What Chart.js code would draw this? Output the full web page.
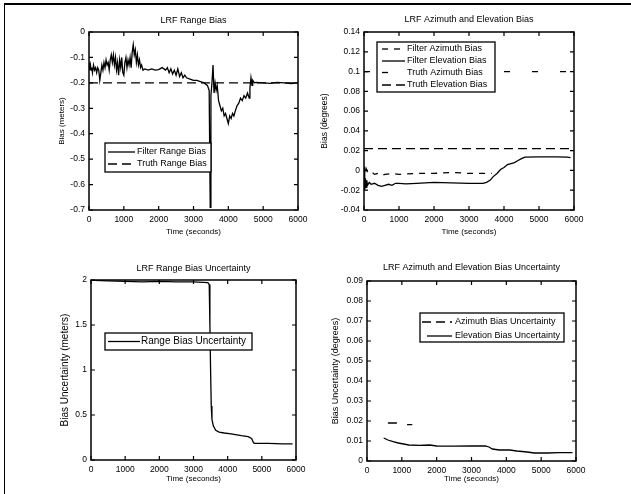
<!DOCTYPE html>
<html>
<head>
<meta charset="utf-8">
<title>LRF Bias Estimation</title>
<script src="https://cdn.jsdelivr.net/npm/chart.js@4.4.1/dist/chart.umd.min.js"></script>
<style>
  html, body { margin: 0; padding: 0; background: #fff; }
  #page { position: relative; width: 631px; height: 494px; overflow: hidden; background: #fff; }
  #page canvas { position: absolute; left: 0; top: 0; }
  #frame { position: absolute; left: 4px; top: 3px; width: 700px; height: 600px;
           border-top: 2px solid #000; border-left: 1.5px solid #000; }
</style>
</head>
<body>
<div id="page">
  <div id="frame"></div>
  <canvas id="c1" width="631" height="494"></canvas>
  <canvas id="c2" width="631" height="494"></canvas>
  <canvas id="c3" width="631" height="494"></canvas>
  <canvas id="c4" width="631" height="494"></canvas>
</div>
<script>
// ---- tick labels ----
const TIME_TICKS = [0, 1000, 2000, 3000, 4000, 5000, 6000];
const RANGE_BIAS_TICKS = [-0.7, -0.6, -0.5, -0.4, -0.3, -0.2, -0.1, 0];
const ANGLE_BIAS_TICKS = [-0.04, -0.02, 0, 0.02, 0.04, 0.06, 0.08, 0.1, 0.12, 0.14];
const RANGE_UNC_TICKS = [0, 0.5, 1, 1.5, 2];
const ANGLE_UNC_TICKS = [0, 0.01, 0.02, 0.03, 0.04, 0.05, 0.06, 0.07, 0.08, 0.09];

// ---- series: [time (s), value] ----
const filterRangeBias = [
  [0,-0.12],[20,-0.15],[40,-0.13],[60,-0.15],[80,-0.14],[100,-0.16],[130,-0.13],[160,-0.15],
  [190,-0.14],[220,-0.16],[250,-0.14],[280,-0.15],[310,-0.19],[340,-0.16],[370,-0.13],[400,-0.15],
  [430,-0.12],[460,-0.14],[490,-0.11],[520,-0.13],[550,-0.12],[580,-0.15],[610,-0.11],[640,-0.09],
  [670,-0.12],[700,-0.09],[730,-0.13],[760,-0.10],[790,-0.15],[820,-0.12],[850,-0.17],[880,-0.11],
  [910,-0.14],[940,-0.10],[970,-0.16],[1000,-0.17],[1030,-0.12],[1060,-0.10],[1090,-0.14],[1120,-0.11],
  [1150,-0.13],[1180,-0.10],[1210,-0.14],[1240,-0.08],[1270,-0.05],[1300,-0.09],[1330,-0.07],[1360,-0.12],
  [1390,-0.09],[1420,-0.13],[1450,-0.11],[1480,-0.14],[1510,-0.13],[1550,-0.15],[1600,-0.145],[1700,-0.15],
  [1800,-0.145],[1900,-0.15],[2000,-0.148],[2100,-0.14],[2150,-0.145],[2200,-0.15],[2250,-0.14],[2300,-0.16],
  [2350,-0.145],[2400,-0.165],[2450,-0.15],[2500,-0.17],[2550,-0.145],[2600,-0.175],[2650,-0.16],[2700,-0.18],
  [2750,-0.17],[2800,-0.18],[2900,-0.185],[3000,-0.19],[3100,-0.19],[3200,-0.195],[3300,-0.20],[3400,-0.21],
  [3450,-0.23],[3480,-0.69],[3500,-0.25],[3530,-0.20],[3560,-0.13],[3590,-0.24],[3620,-0.20],[3650,-0.23],
  [3680,-0.21],[3720,-0.27],[3760,-0.29],[3800,-0.31],[3840,-0.30],[3880,-0.33],[3920,-0.32],[3960,-0.34],
  [4000,-0.36],[4040,-0.33],[4080,-0.34],[4120,-0.32],[4160,-0.33],[4200,-0.31],[4250,-0.29],[4300,-0.28],
  [4350,-0.26],[4400,-0.27],[4450,-0.25],[4500,-0.26],[4550,-0.24],[4600,-0.26],[4620,-0.22],[4650,-0.18],
  [4680,-0.21],[4700,-0.19],[4750,-0.20],[4800,-0.198],[5000,-0.20],[5200,-0.202],[5400,-0.198],[5600,-0.20],
  [5800,-0.203],[6000,-0.20]
];
const truthRangeBias = [[0,-0.2],[6000,-0.2]];

const filterAzimuthBias = [
  [0,0.004],[30,-0.004],[60,0.002],[100,-0.002],[200,-0.001],[300,-0.004],[400,-0.003],[500,-0.005],
  [600,-0.004],[800,-0.003],[1000,-0.004],[1500,-0.003],[2000,-0.003],[2500,-0.002],[3000,-0.003],
  [3500,-0.003],[3650,-0.003]
];
const filterElevationBias = [
  [0,0.002],[20,-0.02],[40,-0.008],[60,-0.017],[80,-0.01],[100,-0.015],[150,-0.012],[200,-0.014],
  [300,-0.013],[400,-0.015],[500,-0.016],[600,-0.015],[700,-0.014],[800,-0.015],[900,-0.013],
  [1000,-0.013],[1200,-0.0135],[1500,-0.013],[2000,-0.012],[2500,-0.0125],[3000,-0.013],[3400,-0.013],
  [3500,-0.012],[3600,-0.01],[3700,-0.006],[3800,-0.003],[3900,0.001],[4000,0.003],[4100,0.006],
  [4200,0.007],[4300,0.008],[4400,0.01],[4500,0.012],[4600,0.0135],[5000,0.0138],[5500,0.0137],
  [5800,0.0135],[5900,0.013]
];
const truthAzimuthBias = [[0,0.1],[6000,0.1]];
const truthElevationBias = [[0,0.022],[6000,0.022]];

const rangeBiasUncertainty = [
  [0,2.0],[100,1.995],[500,1.99],[1000,1.985],[1500,1.98],[2000,1.985],[2500,1.98],[3000,1.98],
  [3420,1.97],[3460,1.95],[3480,1.5],[3500,1.0],[3520,0.6],[3540,0.45],[3580,0.38],[3650,0.33],
  [3750,0.31],[3900,0.30],[4100,0.29],[4400,0.27],[4600,0.26],[4700,0.24],[4760,0.19],[4800,0.185],
  [5200,0.185],[5600,0.18],[5900,0.18]
];

const azimuthBiasUncertainty = [[600,0.019],[900,0.019],[1000,null],[1150,0.0182],[1300,0.0182]];
const elevationBiasUncertainty = [
  [480,0.0115],[600,0.0105],[750,0.0097],[900,0.009],[1050,0.0085],[1200,0.008],[1500,0.0078],
  [1800,0.008],[2000,0.0075],[2500,0.0074],[3000,0.0076],[3400,0.0075],[3500,0.007],[3600,0.006],
  [3800,0.0055],[4100,0.0055],[4300,0.005],[4600,0.0045],[4800,0.004],[5200,0.004],[5500,0.0042],
  [5900,0.0042]
];

// ---- drawing setup ----
const W = 631, H = 494;
const FONT = "'Liberation Sans', Arial, Helvetica, sans-serif";
Chart.defaults.font.family = FONT;
Chart.defaults.color = '#000';

const fmt = v => String(parseFloat(Number(v).toFixed(4)));

// MATLAB-style axes box, inward ticks, panel title and boxed legend
const axesDecor = {
  id: 'axesDecor',
  afterDraw(chart, args, o) {
    const ctx = chart.ctx;
    const a = chart.chartArea;
    const xs = chart.scales.x, ys = chart.scales.y;
    ctx.save();
    ctx.strokeStyle = '#000';
    ctx.lineWidth = 1.2;
    ctx.beginPath();
    const tl = 4;
    xs.ticks.forEach(t => {
      const px = xs.getPixelForValue(t.value);
      ctx.moveTo(px, a.bottom); ctx.lineTo(px, a.bottom - tl);
      ctx.moveTo(px, a.top); ctx.lineTo(px, a.top + tl);
    });
    ys.ticks.forEach(t => {
      const py = ys.getPixelForValue(t.value);
      ctx.moveTo(a.left, py); ctx.lineTo(a.left + tl, py);
      ctx.moveTo(a.right, py); ctx.lineTo(a.right - tl, py);
    });
    ctx.stroke();
    ctx.lineWidth = 1.5;
    ctx.strokeRect(a.left, a.top, a.right - a.left, a.bottom - a.top);

    // title
    ctx.fillStyle = '#000';
    ctx.font = o.titleSize + 'px ' + FONT;
    ctx.textAlign = 'center';
    ctx.textBaseline = 'middle';
    ctx.fillText(o.title, (a.left + a.right) / 2, o.titleY);

    // legend
    const L = o.legend;
    ctx.fillStyle = '#fff';
    ctx.fillRect(L.box[0], L.box[1], L.box[2] - L.box[0], L.box[3] - L.box[1]);
    ctx.lineWidth = 1.3;
    ctx.strokeStyle = '#000';
    ctx.strokeRect(L.box[0], L.box[1], L.box[2] - L.box[0], L.box[3] - L.box[1]);
    ctx.font = L.size + 'px ' + FONT;
    ctx.textAlign = 'left';
    L.items.forEach(it => {
      const ds = chart.data.datasets[it.ds];
      ctx.save();
      ctx.lineWidth = ds.borderWidth;
      ctx.setLineDash(ds.borderDash || []);
      ctx.beginPath();
      ctx.moveTo(it.x1, it.y); ctx.lineTo(it.x2, it.y);
      ctx.stroke();
      ctx.restore();
      ctx.fillStyle = '#000';
      ctx.fillText(ds.label, it.tx, it.y);
    });
    ctx.restore();
  }
};

function panel(id, g, spec) {
  const yLH = g.yTitleSize * 1.2 / 2;
  const xLH = g.xTitleSize * 1.2 / 2;
  const padLeft = g.yTitleX - yLH;
  const scaleBottom = g.xTitleY + xLH;
  return new Chart(document.getElementById(id), {
    type: 'line',
    data: {
      datasets: spec.series.map(s => ({
        label: s.label,
        data: s.data.map(p => ({ x: p[0], y: p[1] })),
        borderColor: '#000',
        borderWidth: s.width || 1.3,
        borderDash: s.dash || [],
        pointRadius: 0,
        tension: 0,
        fill: false,
        spanGaps: false
      }))
    },
    options: {
      responsive: false,
      animation: false,
      devicePixelRatio: 1,
      events: [],
      layout: { padding: { left: padLeft, top: g.area.t, right: W - g.area.r, bottom: H - scaleBottom } },
      plugins: {
        legend: { display: false },
        tooltip: { enabled: false },
        axesDecor: { title: spec.title, titleY: g.titleY, titleSize: 9, legend: spec.legend }
      },
      scales: {
        x: {
          type: 'linear', min: 0, max: 6000,
          afterBuildTicks: s => { s.ticks = TIME_TICKS.map(v => ({ value: v })); },
          afterFit: s => { s.height = scaleBottom - g.area.b; },
          grid: { display: false, drawTicks: false },
          border: { display: false },
          ticks: { padding: 5, autoSkip: false, maxRotation: 0, font: { size: 8.5 }, callback: fmt },
          title: { display: true, text: 'Time (seconds)', padding: 0, font: { size: g.xTitleSize } }
        },
        y: {
          type: 'linear', min: spec.yTicks[0], max: spec.yTicks[spec.yTicks.length - 1],
          afterBuildTicks: s => { s.ticks = spec.yTicks.map(v => ({ value: v })); },
          afterFit: s => { s.width = g.area.l - padLeft; },
          grid: { display: false, drawTicks: false },
          border: { display: false },
          ticks: { padding: 4, autoSkip: false, font: { size: 8.5 }, callback: fmt },
          title: { display: true, text: spec.yTitle, padding: 0, font: { size: g.yTitleSize } }
        }
      }
    },
    plugins: [axesDecor]
  });
}

const DASH = [9, 5];

panel('c1',
  { area: { l: 89, r: 298, t: 32, b: 210 }, yTitleX: 62, yTitleSize: 8, xTitleY: 232, xTitleSize: 8, titleY: 21 },
  {
    title: 'LRF Range Bias', yTitle: 'Bias (meters)', yTicks: RANGE_BIAS_TICKS,
    series: [
      { label: 'Filter Range Bias', data: filterRangeBias },
      { label: 'Truth Range Bias', data: truthRangeBias, dash: DASH }
    ],
    legend: { box: [105, 143, 211, 172], size: 9, items: [
      { ds: 0, y: 152, x1: 108, x2: 135, tx: 137 },
      { ds: 1, y: 164, x1: 108, x2: 135, tx: 137 }
    ] }
  });

panel('c2',
  { area: { l: 364, r: 574, t: 32, b: 210 }, yTitleX: 325, yTitleSize: 8.5, xTitleY: 232, xTitleSize: 8, titleY: 19.5 },
  {
    title: 'LRF Azimuth and Elevation Bias', yTitle: 'Bias (degrees)', yTicks: ANGLE_BIAS_TICKS,
    series: [
      { label: 'Filter Azimuth Bias', data: filterAzimuthBias, dash: [6, 6] },
      { label: 'Filter Elevation Bias', data: filterElevationBias },
      { label: 'Truth Azimuth Bias', data: truthAzimuthBias, dash: [6, 22] },
      { label: 'Truth Elevation Bias', data: truthElevationBias, dash: DASH }
    ],
    legend: { box: [377, 42, 495, 92], size: 9, items: [
      { ds: 0, y: 49, x1: 382, x2: 405, tx: 407 },
      { ds: 1, y: 61, x1: 382, x2: 405, tx: 407 },
      { ds: 2, y: 72.5, x1: 382, x2: 405, tx: 407 },
      { ds: 3, y: 85, x1: 382, x2: 405, tx: 407 }
    ] }
  });

panel('c3',
  { area: { l: 91, r: 296, t: 280, b: 460 }, yTitleX: 65, yTitleSize: 10, xTitleY: 479, xTitleSize: 8, titleY: 269 },
  {
    title: 'LRF Range Bias Uncertainty', yTitle: 'Bias Uncertainty (meters)', yTicks: RANGE_UNC_TICKS,
    series: [
      { label: 'Range Bias Uncertainty', data: rangeBiasUncertainty }
    ],
    legend: { box: [105, 333, 252, 350], size: 10, items: [
      { ds: 0, y: 341.5, x1: 108, x2: 140, tx: 141 }
    ] }
  });

panel('c4',
  { area: { l: 367, r: 576, t: 281, b: 461 }, yTitleX: 336, yTitleSize: 9, xTitleY: 479, xTitleSize: 8, titleY: 268 },
  {
    title: 'LRF Azimuth and Elevation Bias Uncertainty', yTitle: 'Bias Uncertainty (degrees)', yTicks: ANGLE_UNC_TICKS,
    series: [
      { label: 'Azimuth Bias Uncertainty', data: azimuthBiasUncertainty, dash: DASH },
      { label: 'Elevation Bias Uncertainty', data: elevationBiasUncertainty }
    ],
    legend: { box: [420, 313, 564, 342], size: 9, items: [
      { ds: 0, y: 322, x1: 422, x2: 452, tx: 455 },
      { ds: 1, y: 336, x1: 427, x2: 452, tx: 455 }
    ] }
  });
</script>
</body>
</html>
